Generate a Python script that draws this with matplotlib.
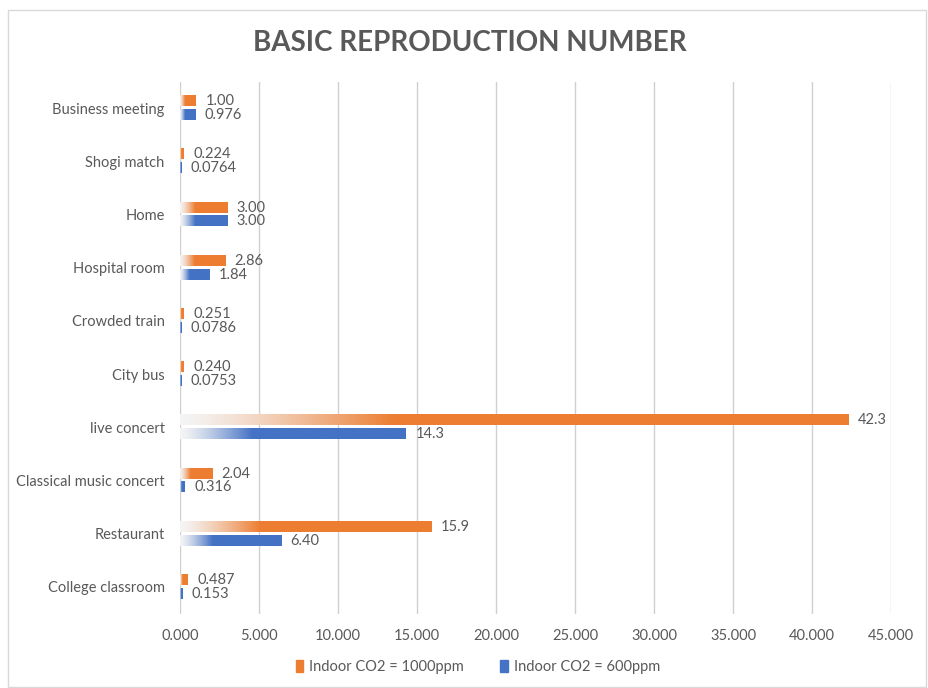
import numpy as np
import matplotlib
matplotlib.use("Agg")
import matplotlib.pyplot as plt
from matplotlib.colors import to_rgb
from matplotlib.patches import Rectangle

plt.rcParams['font.family'] = ['Lato', 'DejaVu Sans']

categories = ["College classroom", "Restaurant", "Classical music concert",
              "live concert", "City bus", "Crowded train", "Hospital room",
              "Home", "Shogi match", "Business meeting"]
co2_1000 = [0.487, 15.9, 2.04, 42.3, 0.240, 0.251, 2.86, 3.00, 0.224, 1.00]
co2_600 = [0.153, 6.40, 0.316, 14.3, 0.0753, 0.0786, 1.84, 3.00, 0.0764, 0.976]
series_names = ["Indoor CO2 = 1000ppm", "Indoor CO2 = 600ppm"]
xticks = [0, 5, 10, 15, 20, 25, 30, 35, 40, 45]

ORANGE = "#ED7D31"
BLUE = "#4472C4"
TEXT = "#595959"


def sig3(v):
    """Three significant figures, keeping trailing zeros."""
    return f"{float(f'{v:.3g}'):#.3g}"


def gradient_bar(ax, y, length, height, color):
    """Horizontal bar fading from white on the left to full colour."""
    n = 256
    t = np.linspace(0, 1, n)
    ramp = np.clip(t / 0.32, 0, 1) ** 1.3
    start = np.array([0.96, 0.96, 0.96])
    c = np.array(to_rgb(color))
    rgb = start[None, :] * (1 - ramp[:, None]) + c[None, :] * ramp[:, None]
    ax.imshow(rgb[None, :, :], extent=(0, length, y - height / 2, y + height / 2),
              aspect='auto', interpolation='bilinear', zorder=3)


fig = plt.figure(figsize=(9.29, 6.88), dpi=100)
top_px, bottom_px = 81.5, 613.5
ax = fig.add_axes([180 / 929, 1 - bottom_px / 688, (891 - 180) / 929,
                   (bottom_px - top_px) / 688])

# outer chart frame
fig.patches.append(Rectangle((8 / 929, 1 / 688), 918 / 929, 677 / 688,
                             transform=fig.transFigure, fill=False,
                             edgecolor="#d9d9d9", linewidth=1.0))

n = len(categories)
ys = np.arange(n)
bh = 0.19
off = 0.13

for i in range(n):
    gradient_bar(ax, ys[i] + off, co2_1000[i], bh, ORANGE)
    gradient_bar(ax, ys[i] - off, co2_600[i], bh, BLUE)
    ax.text(co2_1000[i] + 0.6, ys[i] + off, sig3(co2_1000[i]), va='center',
            ha='left', fontsize=10.5, color=TEXT, zorder=4)
    ax.text(co2_600[i] + 0.6, ys[i] - off, sig3(co2_600[i]), va='center',
            ha='left', fontsize=10.5, color=TEXT, zorder=4)

ax.set_xlim(0, 45)
ax.set_ylim(-0.5, n - 0.5)
ax.set_xticks(xticks)
ax.set_xticklabels([f"{x:.3f}" for x in xticks], fontsize=10.5, color=TEXT)
ax.set_yticks(ys)
ax.set_yticklabels(categories, fontsize=10.5, color=TEXT)
ax.tick_params(length=0, pad=11)
ax.tick_params(axis='x', pad=11)
ax.grid(axis='x', color="#d0d0d0", linewidth=1.0, zorder=0)
ax.set_axisbelow(True)
for s in ax.spines.values():
    s.set_visible(False)

fig.text(470 / 929, 1 - 43 / 688, "BASIC REPRODUCTION NUMBER", ha='center',
         va='center', fontsize=20, fontweight='bold', color=TEXT)

# legend
handles = [Rectangle((0, 0), 1, 1, color=ORANGE), Rectangle((0, 0), 1, 1, color=BLUE)]
fig.legend(handles, series_names, loc='center', bbox_to_anchor=(478 / 929, 1 - 667 / 688),
           ncol=2, frameon=False, fontsize=10.5, labelcolor=TEXT,
           handlelength=0.5, handleheight=0.9, handletextpad=0.4, columnspacing=2.5)

fig.savefig("out.png", dpi=100)
